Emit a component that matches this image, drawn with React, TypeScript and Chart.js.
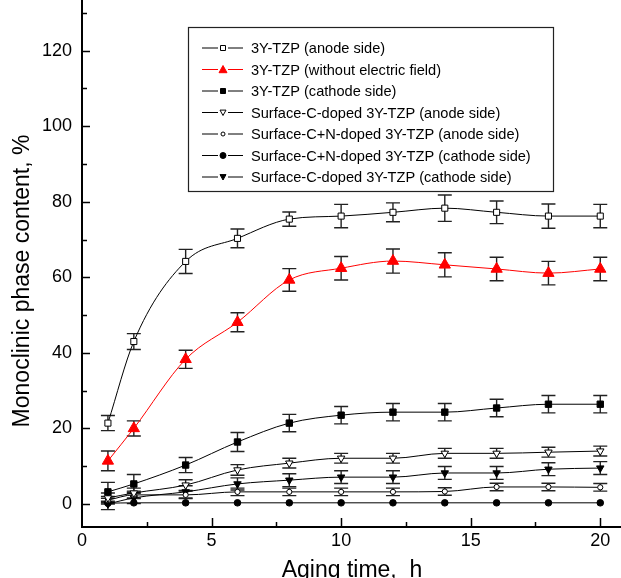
import React, { useEffect, useRef } from "react";
import { Chart, registerables } from "chart.js";

Chart.register(...registerables);

// ---------- data ----------
const agingHours = [1, 2, 4, 6, 8, 10, 12, 14, 16, 18, 20];

const tzpAnode = [21.4, 43, 64.2, 70.3, 75.4, 76.2, 77.2, 78.3, 77.2, 76.2, 76.2];
const tzpAnodeErr = [2, 2.1, 3.2, 2.5, 1.9, 3.1, 2.5, 3.5, 3, 3.2, 3.1];

const tzpNoField = [11.4, 20, 38.3, 48.1, 59.3, 62.4, 64.3, 63.3, 62.2, 61.1, 62.2];
const tzpNoFieldErr = [2.6, 2, 2.4, 2.5, 3, 3.1, 3.2, 3.2, 3.1, 3.1, 3.1];

const tzpCathode = [3.2, 5.3, 10.3, 16.4, 21.4, 23.5, 24.3, 24.3, 25.4, 26.4, 26.4];
const tzpCathodeErr = [2.5, 2.5, 2, 2.5, 2.3, 2.3, 2.3, 2.3, 2.3, 2.3, 2.3];

const cDopedAnode = [1.6, 2.9, 5, 9, 10.8, 12.1, 12.1, 13.4, 13.4, 13.7, 14];
const cDopedAnodeErr = [1.3, 1.3, 1.4, 1.4, 1.3, 1.3, 1.3, 1.3, 1.3, 1.3, 1.3];

const cnDopedAnode = [1, 2.4, 2.4, 3.2, 3.2, 3.2, 3.2, 3.3, 4.5, 4.5, 4.4];
const cnDopedAnodeErr = [1, 1, 1, 1, 1, 1, 1, 1, 1, 1, 1];

const cnDopedCathode = [0.2, 0.3, 0.3, 0.3, 0.3, 0.3, 0.3, 0.3, 0.3, 0.3, 0.3];
const cnDopedCathodeErr = [0, 0, 0, 0, 0, 0, 0, 0, 0, 0, 0];

const cDopedCathode = [0, 1.6, 3.2, 5.3, 6.3, 7.1, 7.1, 8.2, 8.2, 9.2, 9.5];
const cDopedCathodeErr = [1.5, 1.5, 1.6, 1.6, 1.7, 1.7, 1.7, 1.7, 1.7, 1.7, 1.7];

const seriesLabels = [
  "3Y-TZP (anode side)",
  "3Y-TZP (without electric field)",
  "3Y-TZP (cathode side)",
  "Surface-C-doped 3Y-TZP (anode side)",
  "Surface-C+N-doped 3Y-TZP (anode side)",
  "Surface-C+N-doped 3Y-TZP (cathode side)",
  "Surface-C-doped 3Y-TZP (cathode side)",
];

const xTitle = "Aging time,  h";
const yTitle = "Monoclinic phase content, %";

const FONT = "'Liberation Sans', Arial, Helvetica, sans-serif";

type Marker = "sqOpen" | "triUpFill" | "sqFill" | "triDownOpen" | "circOpen" | "circFill" | "triDownFill";

function drawMarker(ctx: CanvasRenderingContext2D, kind: Marker, x: number, y: number, s: number, color: string) {
  ctx.save();
  ctx.lineWidth = 1;
  ctx.strokeStyle = color;
  ctx.fillStyle = kind.endsWith("Open") ? "#ffffff" : color;
  ctx.beginPath();
  if (kind.startsWith("sq")) {
    ctx.rect(x - s / 2, y - s / 2, s, s);
  } else if (kind.startsWith("circ")) {
    ctx.arc(x, y, s / 2, 0, Math.PI * 2);
  } else if (kind === "triUpFill") {
    ctx.moveTo(x, y - s * 0.5);
    ctx.lineTo(x + s * 0.5, y + s * 0.4);
    ctx.lineTo(x - s * 0.5, y + s * 0.4);
    ctx.closePath();
  } else {
    ctx.moveTo(x, y + s * 0.5);
    ctx.lineTo(x + s * 0.5, y - s * 0.4);
    ctx.lineTo(x - s * 0.5, y - s * 0.4);
    ctx.closePath();
  }
  ctx.fill();
  ctx.stroke();
  ctx.restore();
}

const legendMarkers: Marker[] = ["sqOpen", "triUpFill", "sqFill", "triDownOpen", "circOpen", "circFill", "triDownFill"];
const legendSizes = [5, 8, 5, 6, 4, 6, 6];
const legendColors = ["#000", "#ff0000", "#000", "#000", "#000", "#000", "#000"];

const decorPlugin = {
  id: "decor",
  beforeDatasetsDraw(chart: any) {
    const ctx: CanvasRenderingContext2D = chart.ctx;
    const xs = chart.scales.x;
    const ys = chart.scales.y;
    ctx.save();
    ctx.strokeStyle = "#222";
    ctx.lineWidth = 1.4;
    chart.data.datasets.forEach((ds: any) => {
      const errs: number[] = ds.errors || [];
      ds.data.forEach((pt: any, i: number) => {
        const e = errs[i];
        if (!e) return;
        const px = xs.getPixelForValue(pt.x);
        const top = ys.getPixelForValue(pt.y + e);
        const bot = ys.getPixelForValue(pt.y - e);
        ctx.beginPath();
        ctx.moveTo(px, top);
        ctx.lineTo(px, bot);
        ctx.moveTo(px - 7, top);
        ctx.lineTo(px + 7, top);
        ctx.moveTo(px - 7, bot);
        ctx.lineTo(px + 7, bot);
        ctx.stroke();
      });
    });
    ctx.restore();
  },
  afterDraw(chart: any) {
    const ctx: CanvasRenderingContext2D = chart.ctx;
    const xs = chart.scales.x;
    const ys = chart.scales.y;
    const area = chart.chartArea;
    ctx.save();
    ctx.strokeStyle = "#000";
    ctx.lineWidth = 1.5;
    // inward ticks, y axis
    for (let v = 0; v <= 130; v += 10) {
      const py = Math.round(ys.getPixelForValue(v)) + 0.5;
      const len = v % 20 === 0 ? 8 : 5;
      ctx.beginPath();
      ctx.moveTo(area.left, py);
      ctx.lineTo(area.left + len, py);
      ctx.stroke();
    }
    // inward ticks, x axis
    for (let v = 2.5; v <= 20; v += 2.5) {
      const px = Math.round(xs.getPixelForValue(v)) + 0.5;
      const len = v % 5 === 0 ? 9 : 5;
      ctx.beginPath();
      ctx.moveTo(px, area.bottom);
      ctx.lineTo(px, area.bottom - len);
      ctx.stroke();
    }
    // axis titles
    ctx.fillStyle = "#000";
    ctx.font = `23px ${FONT}`;
    ctx.textAlign = "center";
    ctx.textBaseline = "alphabetic";
    ctx.fillText(xTitle, 352, 577);
    ctx.save();
    ctx.translate(29, 281);
    ctx.rotate(-Math.PI / 2);
    ctx.fillText(yTitle, 0, 0);
    ctx.restore();

    // legend
    const bx = 188, by = 27, bw = 365, bh = 164;
    ctx.fillStyle = "#fff";
    ctx.fillRect(bx, by, bw, bh);
    ctx.strokeStyle = "#222";
    ctx.lineWidth = 1.2;
    ctx.strokeRect(bx + 0.5, by + 0.5, bw, bh);
    ctx.font = `14.6px ${FONT}`;
    ctx.textAlign = "left";
    ctx.textBaseline = "middle";
    seriesLabels.forEach((label, i) => {
      const y = 48 + i * 21.5;
      ctx.strokeStyle = legendColors[i];
      ctx.lineWidth = 1;
      ctx.beginPath();
      ctx.moveTo(202, y);
      ctx.lineTo(218, y);
      ctx.moveTo(228, y);
      ctx.lineTo(243, y);
      ctx.stroke();
      drawMarker(ctx, legendMarkers[i], 223, y, legendSizes[i], legendColors[i]);
      ctx.fillStyle = "#000";
      ctx.fillText(label, 251, y + 1);
    });
    ctx.restore();
  },
};

function toPoints(vals: number[]) {
  return vals.map((v, i) => ({ x: agingHours[i], y: v }));
}

export default function App() {
  const canvasRef = useRef<HTMLCanvasElement | null>(null);

  useEffect(() => {
    if (!canvasRef.current) return;
    const common = {
      borderWidth: 1,
      pointBorderWidth: 1,
      cubicInterpolationMode: "monotone" as const,
      fill: false,
    };
    const chart = new Chart(canvasRef.current, {
      type: "line",
      data: {
        datasets: [
          {
            ...common,
            label: seriesLabels[0],
            data: toPoints(tzpAnode),
            errors: tzpAnodeErr,
            borderColor: "#000",
            pointStyle: "rect",
            pointRadius: 4.3,
            pointBackgroundColor: "#fff",
            pointBorderColor: "#000",
          } as any,
          {
            ...common,
            label: seriesLabels[1],
            data: toPoints(tzpNoField),
            errors: tzpNoFieldErr,
            borderColor: "#ff0000",
            pointStyle: "triangle",
            pointRadius: 6.5,
            pointBackgroundColor: "#ff0000",
            pointBorderColor: "#ff0000",
          } as any,
          {
            ...common,
            label: seriesLabels[2],
            data: toPoints(tzpCathode),
            errors: tzpCathodeErr,
            borderColor: "#000",
            pointStyle: "rect",
            pointRadius: 4.5,
            pointBackgroundColor: "#000",
            pointBorderColor: "#000",
          } as any,
          {
            ...common,
            label: seriesLabels[3],
            data: toPoints(cDopedAnode),
            errors: cDopedAnodeErr,
            borderColor: "#000",
            pointStyle: "triangle",
            pointRotation: 180,
            pointRadius: 4.3,
            pointBackgroundColor: "#fff",
            pointBorderColor: "#000",
          } as any,
          {
            ...common,
            label: seriesLabels[4],
            data: toPoints(cnDopedAnode),
            errors: cnDopedAnodeErr,
            borderColor: "#000",
            pointStyle: "circle",
            pointRadius: 2.6,
            pointBackgroundColor: "#fff",
            pointBorderColor: "#000",
          } as any,
          {
            ...common,
            label: seriesLabels[5],
            data: toPoints(cnDopedCathode),
            errors: cnDopedCathodeErr,
            borderColor: "#000",
            pointStyle: "circle",
            pointRadius: 3.3,
            pointBackgroundColor: "#000",
            pointBorderColor: "#000",
          } as any,
          {
            ...common,
            label: seriesLabels[6],
            data: toPoints(cDopedCathode),
            errors: cDopedCathodeErr,
            borderColor: "#000",
            pointStyle: "triangle",
            pointRotation: 180,
            pointRadius: 4.3,
            pointBackgroundColor: "#000",
            pointBorderColor: "#000",
          } as any,
        ],
      },
      options: {
        responsive: false,
        animation: false,
        events: [],
        layout: { padding: 0, autoPadding: false },
        plugins: {
          legend: { display: false },
          tooltip: { enabled: false },
          title: { display: false },
        },
        scales: {
          x: {
            type: "linear",
            position: "bottom",
            min: 0,
            max: 20.8,
            grid: { display: false, drawTicks: false },
            border: { display: true, color: "#000", width: 2 },
            ticks: {
              stepSize: 5,
              includeBounds: false,
              color: "#000",
              font: { size: 18, family: FONT },
              padding: 3,
              maxRotation: 0,
              autoSkip: false,
            },
            afterFit: (s: any) => {
              s.height = 51;
              s.paddingLeft = 0;
              s.paddingRight = 0;
              s.paddingTop = 0;
              s.paddingBottom = 0;
            },
          },
          y: {
            type: "linear",
            position: "left",
            min: -6.1,
            max: 133.4,
            grid: { display: false, drawTicks: false },
            border: { display: true, color: "#000", width: 2 },
            ticks: {
              stepSize: 20,
              includeBounds: false,
              color: "#000",
              font: { size: 18, family: FONT },
              padding: 10,
            },
            afterFit: (s: any) => {
              s.width = 82;
              s.paddingLeft = 0;
              s.paddingRight = 0;
              s.paddingTop = 0;
              s.paddingBottom = 0;
            },
          },
        },
      },
      plugins: [decorPlugin],
    });
    return () => chart.destroy();
  }, []);

  return (
    <div style={{ position: "fixed", left: 0, top: 0, width: 621, height: 578, background: "#fff" }}>
      <canvas ref={canvasRef} width={621} height={578} style={{ display: "block" }} />
    </div>
  );
}
